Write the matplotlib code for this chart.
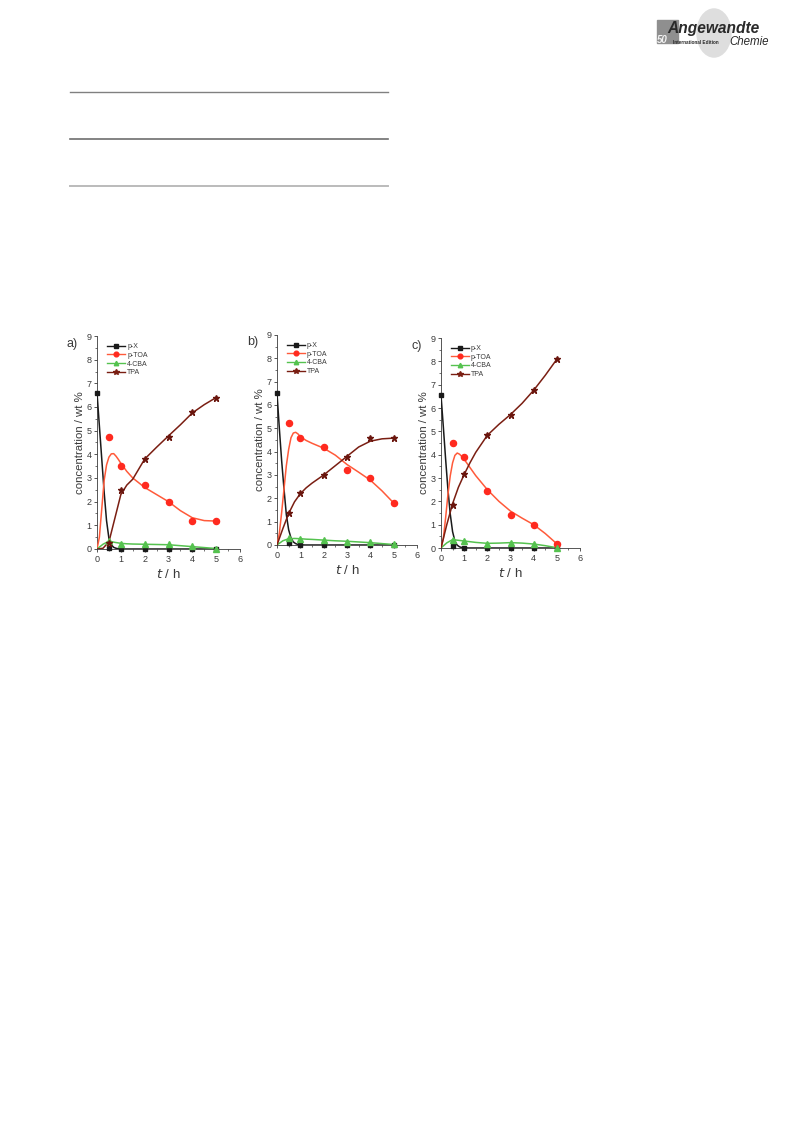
import matplotlib.pyplot as plt
from matplotlib.lines import Line2D
from matplotlib.patches import Circle, Rectangle

plt.rcParams['font.family'] = ['Liberation Sans', 'DejaVu Sans']

# measured points (t in h, concentration in wt %)
t_pts = [0, 0.5, 1, 2, 3, 4, 5]
t_pts_late = [0.5, 1, 2, 3, 4, 5]

a_px = [6.6, 0.05, 0.0, 0.0, 0.0, 0.0, 0.0]
a_ptoa = [4.75, 3.5, 2.7, 2.0, 1.2, 1.2]
a_cba = [0.35, 0.22, 0.2, 0.2, 0.12, 0.02]
a_tpa = [0.25, 2.5, 3.8, 4.75, 5.8, 6.4]

b_px = [6.5, 0.08, 0.02, 0.0, 0.0, 0.0, 0.0]
b_ptoa = [5.24, 4.59, 4.19, 3.2, 2.86, 1.8]
b_cba = [0.29, 0.27, 0.2, 0.14, 0.11, 0.03]
b_tpa = [1.37, 2.23, 2.99, 3.79, 4.57, 4.59]

c_px = [6.54, 0.07, 0.0, 0.0, 0.0, 0.0, 0.0]
c_ptoa = [4.5, 3.9, 2.44, 1.43, 1.0, 0.19]
c_cba = [0.36, 0.31, 0.19, 0.23, 0.17, 0.01]
c_tpa = [1.86, 3.16, 4.83, 5.71, 6.76, 8.09]

# fitted model curves
t_px_fit = [0, 0.1, 0.2, 0.3, 0.4, 0.5, 0.6, 0.7, 0.8, 0.9, 1.0, 1.2, 1.5, 2, 3, 4, 5]
a_px_fit = [6.6, 5.2, 3.8, 2.4, 1.2, 0.45, 0.18, 0.07, 0.03, 0.01, 0.0, 0, 0, 0, 0, 0, 0]
b_px_fit = [6.5, 5.0, 3.6, 2.4, 1.3, 0.65, 0.3, 0.13, 0.06, 0.02, 0.01, 0, 0, 0, 0, 0, 0]
c_px_fit = [6.55, 5.2, 3.8, 2.5, 1.45, 0.7, 0.3, 0.12, 0.05, 0.02, 0.01, 0, 0, 0, 0, 0, 0]

t_toa_fit = [0, 0.1, 0.2, 0.3, 0.4, 0.5, 0.6, 0.7, 0.8, 0.9, 1.0, 1.25, 1.5, 2, 2.5, 3, 3.5, 4, 4.5, 5]
a_ptoa_fit = [0, 0.5, 1.7, 2.9, 3.55, 3.88, 4.02, 4.03, 3.92, 3.78, 3.62, 3.28, 3.0, 2.6, 2.3, 2.0, 1.62, 1.32, 1.2, 1.18]
b_ptoa_fit = [0, 0.5, 1.4, 2.4, 3.4, 4.1, 4.6, 4.8, 4.83, 4.76, 4.64, 4.48, 4.36, 4.15, 3.85, 3.45, 3.12, 2.78, 2.32, 1.8]
c_ptoa_fit = [0, 0.4, 1.3, 2.3, 3.1, 3.65, 3.97, 4.07, 4.02, 3.92, 3.8, 3.45, 3.1, 2.5, 2.0, 1.58, 1.28, 1.0, 0.62, 0.18]

t_fit = [0, 0.25, 0.5, 0.75, 1.0, 1.25, 1.5, 2, 2.5, 3, 3.5, 4, 4.5, 5]
a_tpa_fit = [0, 0.03, 0.3, 1.3, 2.3, 2.7, 2.95, 3.8, 4.3, 4.78, 5.25, 5.75, 6.1, 6.4]
b_tpa_fit = [0, 0.7, 1.35, 1.85, 2.2, 2.45, 2.65, 3.0, 3.4, 3.8, 4.2, 4.45, 4.55, 4.58]
c_tpa_fit = [0, 1.0, 1.9, 2.6, 3.15, 3.65, 4.1, 4.83, 5.3, 5.72, 6.2, 6.76, 7.4, 8.09]
a_cba_fit = [0, 0.2, 0.33, 0.28, 0.24, 0.22, 0.21, 0.2, 0.19, 0.18, 0.14, 0.1, 0.06, 0.02]
b_cba_fit = [0, 0.18, 0.27, 0.28, 0.27, 0.25, 0.24, 0.21, 0.18, 0.16, 0.13, 0.1, 0.06, 0.02]
c_cba_fit = [0, 0.22, 0.36, 0.33, 0.3, 0.27, 0.24, 0.2, 0.21, 0.23, 0.21, 0.17, 0.1, 0.01]

labels = ["p-X", "p-TOA", "4-CBA", "TPA"]
panel_names = ["a)", "b)", "c)"]

COL_PX = "#1a1a1a"
COL_TOA_PT = "#ff2a1f"
COL_TOA_LN = "#ff5a3a"
COL_CBA = "#55c24f"
COL_TPA_LN = "#7a1e12"
COL_TPA_PT = "#6a160e"
TXT = "#3a3a3a"

W, H = 793, 1121
fig = plt.figure(figsize=(W / 100, H / 100), dpi=100)


def px_axes(left, top, right, bottom):
    return fig.add_axes([left / W, 1 - bottom / H, (right - left) / W, (bottom - top) / H])


def draw_panel(ax, name, px, toa, cba, tpa, px_fit, toa_fit, cba_fit, tpa_fit):
    ax.plot(t_px_fit, px_fit, color=COL_PX, lw=1.1, zorder=3)
    ax.plot(t_toa_fit, toa_fit, color=COL_TOA_LN, lw=1.1, zorder=3)
    ax.plot(t_fit, cba_fit, color=COL_CBA, lw=1.1, zorder=3)
    ax.plot(t_fit, tpa_fit, color=COL_TPA_LN, lw=1.1, zorder=3)
    ax.plot(t_pts, px, ls="none", marker="s", ms=3.2, color=COL_PX, clip_on=False, zorder=4)
    ax.plot(t_pts_late, toa, ls="none", marker="o", ms=4.4, color=COL_TOA_PT, clip_on=False, zorder=4)
    ax.plot(t_pts_late, cba, ls="none", marker="^", ms=4.2, color=COL_CBA, clip_on=False, zorder=4)
    ax.plot(t_pts_late, tpa, ls="none", marker="*", ms=5.0, color=COL_TPA_PT, clip_on=False, zorder=5)

    ax.set_xlim(0, 6)
    ax.set_ylim(0, 9)
    ax.set_xticks(range(0, 7))
    ax.set_yticks(range(0, 10))
    ax.set_xticks([i + 0.5 for i in range(6)], minor=True)
    ax.set_yticks([i + 0.5 for i in range(9)], minor=True)
    ax.tick_params(which="major", direction="out", length=2.5, width=0.6, labelsize=6.5,
                   colors=TXT, pad=1.5)
    ax.tick_params(which="minor", direction="out", length=1.5, width=0.5, colors=TXT)
    for s in ["top", "right"]:
        ax.spines[s].set_visible(False)
    for s in ["left", "bottom"]:
        ax.spines[s].set_linewidth(0.6)
        ax.spines[s].set_color(TXT)
    ax.set_xlabel("$t$ / h", fontsize=9.5, color=TXT, labelpad=3)
    ax.set_ylabel("concentration / wt %", fontsize=8.2, color=TXT, labelpad=1)
    ax.text(-0.21, 0.95, name, transform=ax.transAxes, fontsize=9, color=TXT)

    handles = [
        Line2D([], [], color=COL_PX, lw=1.0, marker="s", ms=2.8),
        Line2D([], [], color=COL_TOA_LN, lw=1.0, marker="o", ms=3.4, mfc=COL_TOA_PT, mec=COL_TOA_PT),
        Line2D([], [], color=COL_CBA, lw=1.0, marker="^", ms=3.2),
        Line2D([], [], color=COL_TPA_LN, lw=1.0, marker="*", ms=4.0),
    ]
    ax.legend(handles, labels, loc="upper left", bbox_to_anchor=(0.05, 0.98), frameon=False,
              fontsize=5, handlelength=2.6, handletextpad=0.3, labelspacing=0.25,
              borderaxespad=0, labelcolor=TXT)


ax_a = px_axes(97, 336, 240, 549)
draw_panel(ax_a, panel_names[0], a_px, a_ptoa, a_cba, a_tpa, a_px_fit, a_ptoa_fit, a_cba_fit, a_tpa_fit)
ax_b = px_axes(277, 335, 417, 545)
draw_panel(ax_b, panel_names[1], b_px, b_ptoa, b_cba, b_tpa, b_px_fit, b_ptoa_fit, b_cba_fit, b_tpa_fit)
ax_c = px_axes(441, 338, 580, 548)
draw_panel(ax_c, panel_names[2], c_px, c_ptoa, c_cba, c_tpa, c_px_fit, c_ptoa_fit, c_cba_fit, c_tpa_fit)

# table rules above the figure
for y, col, lw in [(92, "#808080", 1.0), (139, "#6e6e6e", 1.2), (186, "#bbbbbb", 1.4)]:
    fig.add_artist(Line2D([70 / W, 388 / W], [1 - y / H, 1 - y / H], color=col, lw=lw))

# journal logo
fig.add_artist(Circle((714 / W, 1 - 33 / H), 17 / W, transform=fig.transFigure,
                      color="#dedede", zorder=0))
fig.add_artist(Rectangle((657 / W, 1 - 43 / H), 21 / W, 23 / H, transform=fig.transFigure,
                         color="#8f8f8f", zorder=0))
fig.text(667 / W, 1 - 33 / H, "Angewandte", fontsize=11.2, fontweight="bold", fontstyle="italic",
         color="#2a2a2a")
fig.text(729 / W, 1 - 45 / H, "Chemie", fontsize=8.3, fontstyle="italic", color="#2a2a2a")
fig.text(657 / W, 1 - 43 / H, "50", fontsize=7, fontweight="bold", fontstyle="italic", color="#f2f2f2")
fig.text(673 / W, 1 - 43.5 / H, "International Edition", fontsize=3.3, fontweight="bold", color="#2a2a2a")

fig.savefig("out.png", dpi=100, facecolor="white")
